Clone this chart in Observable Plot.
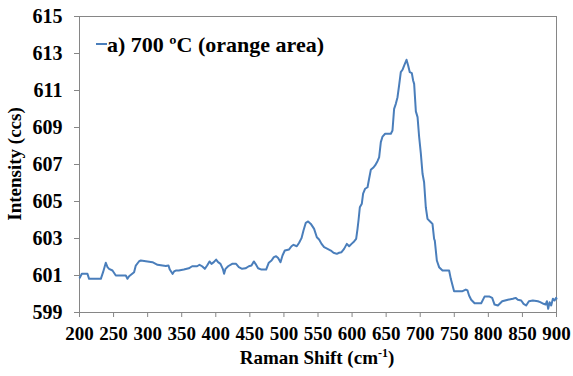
<!DOCTYPE html>
<html>
<head>
<meta charset="utf-8">
<script src="https://cdn.jsdelivr.net/npm/d3@7"></script>
<script src="https://cdn.jsdelivr.net/npm/@observablehq/plot@0.6"></script>
<style>
  html, body { margin: 0; padding: 0; background: #fff; }
  svg { display: block; }
</style>
</head>
<body>
<div id="chart"></div>
<script>
const seriesName = "a) 700 ºC (orange area)";
const xLabel = "Raman Shift (cm";
const xLabelSup = "-1";
const yLabel = "Intensity (ccs)";
const xTicks = [200, 250, 300, 350, 400, 450, 500, 550, 600, 650, 700, 750, 800, 850, 900];
const yTicks = [599, 601, 603, 605, 607, 609, 611, 613, 615];

const ramanShift = [
  200.4, 203.4, 211.7, 214.1, 231.3, 234.6, 238.6, 241.1, 243.4, 248.4,
  253.3, 268.0, 270.4, 272.8, 280.1, 282.6, 287.5, 290.0, 307.1, 314.5,
  326.7, 330.6, 332.5, 336.5, 338.8, 341.3, 345.7, 353.1, 360.4, 365.3,
  372.6, 376.1, 379.9, 383.9, 387.3, 390.8, 393.7, 397.1, 400.5, 403.4,
  406.9, 410.3, 412.2, 414.3, 418.1, 424.0, 429.8, 433.8, 438.6, 443.6,
  448.5, 452.4, 455.8, 458.3, 462.1, 467.1, 473.9, 477.8, 481.8, 485.2,
  488.5, 491.5, 495.0, 497.9, 501.3, 507.6, 511.1, 514.1, 518.9, 522.3,
  525.8, 528.7, 532.1, 535.5, 539.5, 544.3, 548.3, 551.6, 555.2, 559.0,
  564.0, 568.8, 572.8, 577.6, 581.0, 584.5, 588.3, 592.3, 595.7, 599.2,
  603.0, 606.0, 608.0, 609.5, 611.4, 614.3, 616.2, 619.2, 622.7, 625.0,
  627.5, 630.9, 633.8, 637.3, 639.7, 642.2, 644.7, 648.5, 656.9, 659.3,
  661.7, 664.2, 666.7, 669.0, 671.5, 674.0, 676.4, 679.9, 682.3, 684.7,
  687.7, 689.6, 691.1, 693.6, 696.1, 698.4, 700.9, 703.4, 705.7, 708.2,
  710.7, 715.6, 718.0, 720.4, 721.4, 724.4, 727.7, 732.7, 742.4, 744.9,
  749.7, 762.1, 766.9, 769.4, 771.7, 774.8, 779.8, 789.5, 794.4, 801.8,
  805.6, 809.1, 814.0, 820.3, 828.7, 836.0, 840.0, 843.3, 848.2, 851.7,
  855.5, 859.5, 865.3, 872.7, 876.1, 881.0, 884.0, 885.9, 887.8, 889.9,
  892.2, 894.7, 897.2, 899.5, 900.0
];
const intensity = [
  600.88, 601.09, 601.09, 600.82, 600.82, 601.18, 601.69, 601.45, 601.36, 601.27,
  601.00, 601.00, 600.82, 600.96, 601.18, 601.54, 601.77, 601.81, 601.72, 601.58,
  601.51, 601.54, 601.32, 601.09, 601.22, 601.27, 601.27, 601.32, 601.39, 601.50,
  601.50, 601.58, 601.50, 601.36, 601.54, 601.76, 601.63, 601.72, 601.86, 601.72,
  601.63, 601.36, 601.09, 601.36, 601.50, 601.63, 601.63, 601.45, 601.36, 601.39,
  601.50, 601.54, 601.76, 601.63, 601.39, 601.32, 601.32, 601.69, 601.81, 601.99,
  602.04, 601.94, 601.72, 602.08, 602.35, 602.41, 602.58, 602.66, 602.58, 602.77,
  603.02, 603.43, 603.85, 603.92, 603.79, 603.52, 603.07, 602.95, 602.71, 602.53,
  602.44, 602.35, 602.23, 602.17, 602.23, 602.26, 602.44, 602.71, 602.58, 602.71,
  602.84, 602.98, 603.52, 604.00, 604.69, 604.88, 605.42, 605.69, 605.77, 606.23,
  606.71, 606.82, 606.95, 607.18, 607.39, 608.21, 608.51, 608.66, 608.66, 608.84,
  610.01, 610.28, 610.64, 611.27, 611.99, 612.12, 612.35, 612.66, 612.35, 611.99,
  611.94, 611.54, 611.36, 609.87, 609.56, 608.50, 607.60, 606.50, 606.04, 604.69,
  604.06, 603.88, 603.79, 602.98, 602.89, 601.81, 601.45, 601.27, 601.27, 600.82,
  600.15, 600.15, 600.24, 600.19, 599.92, 599.69, 599.50, 599.50, 599.86, 599.86,
  599.79, 599.43, 599.38, 599.61, 599.69, 599.74, 599.79, 599.69, 599.65, 599.47,
  599.38, 599.61, 599.65, 599.61, 599.56, 599.47, 599.43, 599.61, 599.20, 599.56,
  599.38, 599.74, 599.65, 599.79, 599.75
];

const data = ramanShift.map((x, i) => ({x, y: intensity[i]}));
const lineColor = "#4a7ebb";
const axisGray = "#868686";
const font = "Liberation Serif";

const plot = Plot.plot({
  width: 573,
  height: 376,
  marginLeft: 79,
  marginRight: 17,
  marginTop: 16,
  marginBottom: 64,
  style: {fontFamily: font, fontSize: "19px", fontWeight: "bold"},
  x: {domain: [200, 900]},
  y: {domain: [599, 615]},
  marks: [
    Plot.frame({stroke: axisGray, strokeWidth: 1}),
    Plot.axisX({ticks: xTicks, tickSize: 5, tickPadding: 9, tickFormat: d => String(d), label: null, stroke: axisGray, fill: "black"}),
    Plot.axisY({ticks: yTicks, tickSize: 5, tickPadding: 12, fontSize: 20, tickFormat: d => String(d), label: null, stroke: axisGray, fill: "black"}),
    Plot.line(data, {x: "x", y: "y", stroke: lineColor, strokeWidth: 2})
  ]
});

const svg = d3.select(plot);
svg.selectAll("text").attr("font-family", font).attr("font-weight", "bold");

// x-axis title with superscript
const xt = svg.append("text")
  .attr("x", 317).attr("y", 364)
  .attr("text-anchor", "middle")
  .attr("font-family", font).attr("font-weight", "bold")
  .attr("font-size", 19)
  .attr("fill", "black");
xt.append("tspan").text(xLabel);
xt.append("tspan").attr("dy", -7).attr("font-size", 12).text(xLabelSup);
xt.append("tspan").attr("dy", 7).text(")");

// y-axis title
svg.append("text")
  .attr("transform", "translate(21,164) rotate(-90)")
  .attr("text-anchor", "middle")
  .attr("font-family", font).attr("font-weight", "bold")
  .attr("font-size", 19)
  .attr("fill", "black")
  .text(yLabel);

// legend
svg.append("line")
  .attr("x1", 96).attr("x2", 107).attr("y1", 44).attr("y2", 44)
  .attr("stroke", lineColor).attr("stroke-width", 2);
svg.append("text")
  .attr("x", 107).attr("y", 52)
  .attr("text-anchor", "start")
  .attr("font-family", font).attr("font-weight", "bold")
  .attr("font-size", 22)
  .attr("fill", "black")
  .text(seriesName);

document.getElementById("chart").appendChild(plot);
</script>
</body>
</html>
